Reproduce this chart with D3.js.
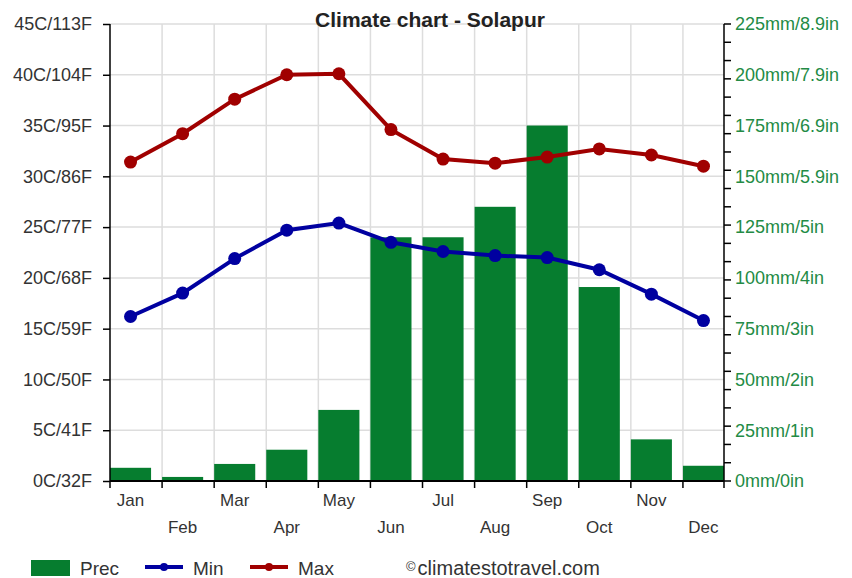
<!DOCTYPE html>
<html>
<head>
<meta charset="utf-8">
<script src="https://cdn.jsdelivr.net/npm/d3@7"></script>
<style>
  body { margin: 0; background: #fff; }
  text { font-family: "Liberation Sans", Arial, sans-serif; }
</style>
</head>
<body>
<script>
var width = 852;
var height = 578;

// data
var months = ['Jan','Feb','Mar','Apr','May','Jun','Jul','Aug','Sep','Oct','Nov','Dec'];
var prec = [6.5, 2, 8.4, 15.4, 35, 120, 120, 135, 175, 95.5, 20.5, 7.5];
var tmin = [16.2, 18.5, 21.9, 24.7, 25.4, 23.5, 22.6, 22.2, 22.0, 20.8, 18.4, 15.8];
var tmax = [31.4, 34.2, 37.6, 40.0, 40.1, 34.6, 31.7, 31.3, 31.9, 32.7, 32.1, 31.0];
var tempTicks = [0, 5, 10, 15, 20, 25, 30, 35, 40, 45];
var tempLabels = ['0C/32F','5C/41F','10C/50F','15C/59F','20C/68F','25C/77F','30C/86F','35C/95F','40C/104F','45C/113F'];
var precTicks = [0, 25, 50, 75, 100, 125, 150, 175, 200, 225];
var precLabels = ['0mm/0in','25mm/1in','50mm/2in','75mm/3in','100mm/4in','125mm/5in','150mm/5.9in','175mm/6.9in','200mm/7.9in','225mm/8.9in'];

var pLeft = 110, pRight = 724, pTop = 24, pBottom = 481;
var fs = 17;
var axisFs = 18;

var svg = d3.select('body').append('svg')
    .attr('width', width)
    .attr('height', height)

var x = d3.scaleBand().domain(months).range([pLeft, pRight]).paddingInner(11/52).paddingOuter(0)
var bw = x.bandwidth()
var yT = d3.scaleLinear().domain([0, 45]).range([pBottom, pTop])
var yP = d3.scaleLinear().domain([0, 225]).range([pBottom, pTop])

// grid
var grid = svg.append('g').attr('stroke', '#dddddd').attr('stroke-width', 1.5)
grid.selectAll('.h').data(tempTicks).enter().append('line')
    .attr('x1', pLeft).attr('x2', pRight)
    .attr('y1', d => yT(d)).attr('y2', d => yT(d))
grid.selectAll('.v').data(months.slice(1)).enter().append('line')
    .attr('x1', d => x(d)).attr('x2', d => x(d))
    .attr('y1', pTop).attr('y2', pBottom)

// bars
svg.append('g').selectAll('rect')
    .data(prec).enter()
    .append('rect')
        .attr('x', (d, i) => x(months[i]))
        .attr('width', bw)
        .attr('y', d => yP(d))
        .attr('height', d => pBottom - yP(d))
        .attr('fill', '#067d2f')

// left axis
var la = svg.append('g').attr('transform', 'translate(' + pLeft + ',0)')
    .call(d3.axisLeft(yT).tickValues(tempTicks).tickFormat((d, i) => tempLabels[i]).tickSize(7).tickPadding(11))
la.selectAll('text').attr('font-size', axisFs).attr('fill', '#333').attr('font-family', null)
la.selectAll('line, path').attr('stroke', '#000').attr('stroke-width', 1.5)
la.select('.domain').attr('d', 'M0,' + pTop + 'V' + pBottom)

// right axis
var minorTicks = d3.range(0, 226, 9)
var ra = svg.append('g').attr('transform', 'translate(' + pRight + ',0)')
ra.append('line').attr('y1', pTop).attr('y2', pBottom).attr('stroke', '#000').attr('stroke-width', 1.5)
ra.selectAll('.mt').data(minorTicks).enter().append('line')
    .attr('x1', 0).attr('x2', 7)
    .attr('y1', d => yP(d)).attr('y2', d => yP(d))
    .attr('stroke', '#000').attr('stroke-width', 1.5)
ra.selectAll('text').data(precTicks).enter().append('text')
    .attr('x', 11)
    .attr('y', d => yP(d))
    .attr('dy', '0.35em')
    .attr('font-size', axisFs)
    .attr('fill', '#238b45')
    .text((d, i) => precLabels[i])

// bottom axis
var ba = svg.append('g')
ba.append('line').attr('x1', pLeft).attr('x2', pRight).attr('y1', pBottom).attr('y2', pBottom)
    .attr('stroke', '#000').attr('stroke-width', 2)
ba.selectAll('.bt').data(months.concat(['end'])).enter().append('line')
    .attr('x1', d => d == 'end' ? pRight : x(d)).attr('x2', d => d == 'end' ? pRight : x(d))
    .attr('y1', pBottom).attr('y2', pBottom + 7)
    .attr('stroke', '#000').attr('stroke-width', 1.5)
ba.selectAll('text').data(months).enter().append('text')
    .attr('x', d => x(d) + bw / 2)
    .attr('y', (d, i) => i % 2 == 0 ? 506 : 533)
    .attr('text-anchor', 'middle')
    .attr('font-size', fs)
    .attr('fill', '#333')
    .text(d => d)

// temperature lines
function drawLine(vals, color){
    var line = d3.line().x((d, i) => x(months[i]) + bw / 2).y(d => yT(d))
    svg.append('path').datum(vals)
        .attr('d', line)
        .attr('fill', 'none')
        .attr('stroke', color)
        .attr('stroke-width', 4)
    svg.append('g').selectAll('circle').data(vals).enter().append('circle')
        .attr('cx', (d, i) => x(months[i]) + bw / 2)
        .attr('cy', d => yT(d))
        .attr('r', 6.5)
        .attr('fill', color)
}
drawLine(tmin, '#0000a0')
drawLine(tmax, '#a00000')

// title
svg.append('text')
    .attr('x', 430).attr('y', 27)
    .attr('text-anchor', 'middle')
    .attr('font-size', 21)
    .attr('font-weight', 'bold')
    .attr('fill', '#222')
    .text('Climate chart - Solapur')

// legend
var lg = svg.append('g')
lg.append('rect').attr('x', 31).attr('y', 560).attr('width', 39).attr('height', 16).attr('fill', '#067d2f')
lg.append('text').attr('x', 80).attr('y', 575).attr('font-size', 19).attr('fill', '#333').text('Prec')
var legLines = [{name: 'Min', color: '#0000a0', x: 145}, {name: 'Max', color: '#a00000', x: 250}]
legLines.forEach(l => {
    lg.append('line').attr('x1', l.x).attr('x2', l.x + 38).attr('y1', 567).attr('y2', 567)
        .attr('stroke', l.color).attr('stroke-width', 4)
    lg.append('circle').attr('cx', l.x + 19).attr('cy', 567).attr('r', 4).attr('fill', l.color)
    lg.append('text').attr('x', l.x + 48).attr('y', 575).attr('font-size', 19).attr('fill', '#333').text(l.name)
})
var cr = lg.append('text').attr('x', 406).attr('y', 575).attr('font-size', 20).attr('fill', '#333')
cr.append('tspan').attr('font-size', 13).attr('dy', -4).text('©')
cr.append('tspan').attr('dy', 4).attr('dx', 2).text('climatestotravel.com')
</script>
</body>
</html>
